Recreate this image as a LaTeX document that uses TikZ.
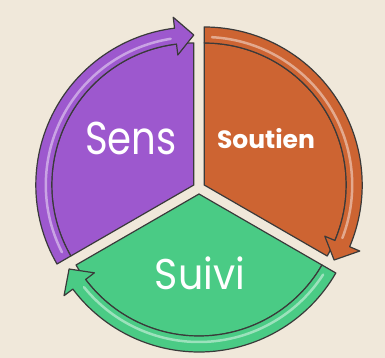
\documentclass[tikz,border=0pt]{standalone}
\usepackage{fontspec}
\setmainfont{Poppins}
\usetikzlibrary{calc}

\definecolor{bgbeige}{HTML}{F0E8DA}
\definecolor{sensviolet}{HTML}{9D58CE}
\definecolor{soutienorange}{HTML}{CD6432}
\definecolor{suivivert}{HTML}{4ACB85}
\definecolor{rimgray}{HTML}{3A3A3A}

\tikzset{
  part/.style={fill=#1, draw=rimgray, line width=1.2pt, line join=round},
  gloss/.style={draw=white, opacity=0.45, line width=2.5pt, line cap=round},
  partlabel/.style={text=white, inner sep=0pt}
}

\begin{document}
\begin{tikzpicture}[x=1pt, y=1pt]
  % background and page size
  \fill[bgbeige] (0,0) rectangle (385,358);
  \useasboundingbox (0,0) rectangle (385,358);

  % three parts of the cycle, each with its own arrow band
  \begin{scope}[shift={(199,170)}]
  \foreach \b/\col in {150/sensviolet, 30/soutienorange, 270/suivivert}{
    \pgfmathsetmacro{\s}{\b+60}
    \pgfmathsetmacro{\e}{\b-60}
    \pgfmathsetmacro{\h}{\b-53}
    \begin{scope}[shift={(\b:6)}]
      \draw[part=\col] (0,0) -- (\s:142) arc[start angle=\s, end angle=\e, radius=142] -- cycle;
      \draw[part=\col] (\s:142) -- (\s:158) arc[start angle=\s, end angle=\h, radius=158]
        -- (\h:169) -- (\e:150) -- (\h:131) -- (\h:142)
        arc[start angle=\h, end angle=\s, radius=142] -- cycle;
      \draw[gloss] (\s-3:148) arc[start angle=\s-3, end angle=\h+2, radius=148];
    \end{scope}
  }
  \end{scope}

  % labels
  \node[partlabel, xscale=0.84, font=\fontsize{46}{46}\selectfont] (sens) at (131,220) {Sens};
  \node[partlabel, font=\fontsize{25}{25}\selectfont\bfseries] (soutien) at (266,219) {Soutien};
  \node[partlabel, xscale=0.92, font=\fontsize{43}{43}\selectfont] (suivi) at (200,85) {Suivi};
\end{tikzpicture}
\end{document}
